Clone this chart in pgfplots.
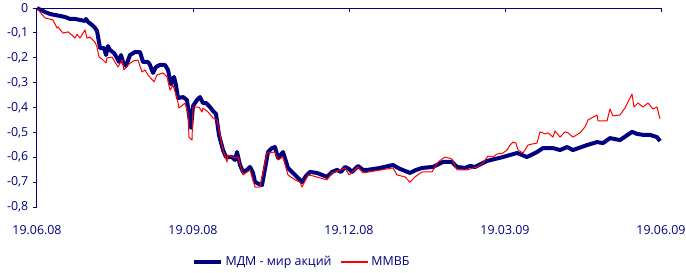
\documentclass[border=0pt]{standalone}
\usepackage{pgfplots}
\pgfplotsset{compat=1.18}
\usepackage{fontspec}
\setmainfont{Open Sans}
\definecolor{navy}{RGB}{0,0,128}
\definecolor{redl}{RGB}{255,0,0}
\begin{document}
\begin{tikzpicture}
\path[use as bounding box] (-27.75pt,-48.75pt) rectangle (486.75pt,155.25pt);
\begin{axis}[
  at={(0pt,0pt)}, anchor=south west,
  scale only axis, width=468pt, height=149.25pt,
  xmin=0, xmax=624, ymin=-0.8, ymax=0,
  clip=false,
  axis line style={draw=none},
  xtick={0,156,312,468,624},
  xticklabels={19.06.08,19.09.08,19.12.08,19.03.09,19.06.09},
  xtick style={draw=none},
  xtick pos=left, xticklabel pos=left,
  x tick label style={font=\fontsize{9.3}{10}\selectfont, text=navy, yshift=-7pt},
  ytick={-0.8,-0.7,-0.6,-0.5,-0.4,-0.3,-0.2,-0.1,0},
  yticklabels={{-0,8},{-0,7},{-0,6},{-0,5},{-0,4},{-0,3},{-0,2},{-0,1},{0}},
  ytick pos=left, tick align=outside, major tick length=3pt,
  ytick style={navy, line width=0.75pt},
  y tick label style={font=\fontsize{9.3}{10}\selectfont, text=navy},
  legend columns=2,
  legend style={draw=none, fill=none, at={(0.425,-0.276)}, anchor=center,
    font=\fontsize{9.3}{10}\selectfont,
    /tikz/every even column/.append style={column sep=5pt}},
  legend image code/.code={\draw[#1] (0pt,0pt) -- (20pt,0pt);},
]
\addplot[color=navy, line width=3pt, line join=round] coordinates {
(0,0) (8,-0.016) (13,-0.024) (18,-0.028) (23,-0.032) (28,-0.036) (33,-0.044) (38,-0.044)
(43,-0.048) (48,-0.052) (49,-0.044) (51,-0.056) (55,-0.068) (58,-0.080) (60,-0.092)
(62,-0.137) (63,-0.161) (67,-0.161) (69,-0.189) (71,-0.153) (73,-0.169) (77,-0.181)
(80,-0.201) (82,-0.217) (84,-0.189) (86,-0.217) (89,-0.233) (93,-0.189) (98,-0.177)
(103,-0.177) (106,-0.217) (111,-0.217) (113,-0.229) (116,-0.261) (119,-0.237) (123,-0.229)
(128,-0.229) (131,-0.249) (134,-0.306) (137,-0.277) (139,-0.310) (141,-0.362) (146,-0.358)
(150,-0.370) (152,-0.430) (154,-0.482) (156,-0.394) (160,-0.370) (163,-0.358) (166,-0.382)
(169,-0.382) (173,-0.398) (176,-0.414) (179,-0.426) (182,-0.511) (186,-0.571) (189,-0.599)
(195,-0.599) (198,-0.611) (200,-0.579) (203,-0.631) (206,-0.659) (210,-0.651) (213,-0.639)
(216,-0.663) (218,-0.699) (222,-0.708) (225,-0.712) (231,-0.579) (235,-0.563) (238,-0.559)
(241,-0.603) (246,-0.579) (251,-0.643) (255,-0.659) (258,-0.671) (265,-0.700) (269,-0.675)
(273,-0.659) (280,-0.663) (285,-0.671) (290,-0.679) (295,-0.659) (300,-0.651) (304,-0.659)
(308,-0.639) (312,-0.647) (315,-0.659) (321,-0.635) (326,-0.651) (330,-0.651) (343,-0.643)
(356,-0.631) (363,-0.647) (373,-0.663) (379,-0.651) (385,-0.643) (396,-0.639) (406,-0.619)
(415,-0.619) (420,-0.639) (428,-0.643) (433,-0.635) (438,-0.639) (450,-0.615) (458,-0.607)
(466,-0.599) (473,-0.591) (480,-0.583) (490,-0.599) (500,-0.579) (506,-0.563) (516,-0.563)
(523,-0.571) (530,-0.559) (536,-0.571) (550,-0.551) (560,-0.539) (566,-0.543) (573,-0.523)
(583,-0.531) (595,-0.498) (600,-0.506) (606,-0.510) (613,-0.510) (620,-0.519) (623,-0.535)
};
\addlegendentry{\textcolor{navy}{МДМ - мир акций}}
\addplot[color=redl, line width=0.75pt, line join=round, forget plot] coordinates {
(0,0) (3,-0.016) (8,-0.040) (16,-0.048) (20,-0.080) (21,-0.076) (26,-0.101) (31,-0.096)
(35,-0.109) (38,-0.121) (40,-0.105) (43,-0.121) (46,-0.101) (48,-0.088) (50,-0.121)
(53,-0.117) (58,-0.137) (60,-0.157) (62,-0.197) (65,-0.205) (69,-0.221) (70,-0.201)
(75,-0.197) (78,-0.217) (81,-0.237) (85,-0.209) (87,-0.249) (91,-0.229) (96,-0.213)
(101,-0.209) (105,-0.257) (108,-0.249) (111,-0.269) (117,-0.297) (120,-0.269) (126,-0.261)
(130,-0.277) (133,-0.330) (136,-0.310) (140,-0.362) (142,-0.402) (148,-0.382) (151,-0.422)
(152,-0.519) (155,-0.531) (156,-0.398) (160,-0.398) (162,-0.398) (165,-0.418) (166,-0.402)
(171,-0.418) (176,-0.442) (180,-0.450) (183,-0.511) (186,-0.571) (190,-0.619) (191,-0.591)
(198,-0.603) (201,-0.599) (206,-0.671) (213,-0.651) (218,-0.720) (223,-0.720) (230,-0.583)
(238,-0.579) (241,-0.611) (246,-0.599) (251,-0.671) (258,-0.691) (263,-0.700) (265,-0.720)
(271,-0.671) (276,-0.675) (283,-0.683) (290,-0.691) (295,-0.663) (303,-0.651) (308,-0.643)
(312,-0.671) (318,-0.651) (321,-0.639) (326,-0.663) (356,-0.643) (360,-0.671) (368,-0.679)
(373,-0.700) (378,-0.679) (385,-0.659) (395,-0.659) (401,-0.619) (408,-0.599) (415,-0.607)
(420,-0.651) (430,-0.651) (440,-0.639) (446,-0.623) (451,-0.595) (456,-0.599) (460,-0.587)
(466,-0.583) (470,-0.571) (473,-0.551) (476,-0.539) (479,-0.543) (481,-0.571) (486,-0.583)
(491,-0.551) (495,-0.547) (500,-0.543) (503,-0.498) (508,-0.506) (511,-0.502) (516,-0.519)
(518,-0.494) (523,-0.519) (528,-0.498) (531,-0.502) (536,-0.519) (543,-0.502) (548,-0.478)
(551,-0.450) (560,-0.430) (561,-0.454) (570,-0.454) (573,-0.406) (576,-0.434) (583,-0.430)
(588,-0.402) (595,-0.346) (597,-0.398) (601,-0.382) (606,-0.398) (611,-0.382) (616,-0.406)
(620,-0.398) (623,-0.446)
};
\addlegendimage{draw=redl, color=redl, line width=1pt}
\addlegendentry{\textcolor{navy}{ММВБ}}
\draw[navy, line width=0.75pt] (rel axis cs:0,0) -- (rel axis cs:0,1) -- (rel axis cs:1,1);
\pgfplotsinvokeforeach{0,156,312,468,624}{
  \draw[navy, line width=0.75pt] (axis cs:#1,0) -- ++(0pt,-3pt);
}
\end{axis}
\end{tikzpicture}
\end{document}
